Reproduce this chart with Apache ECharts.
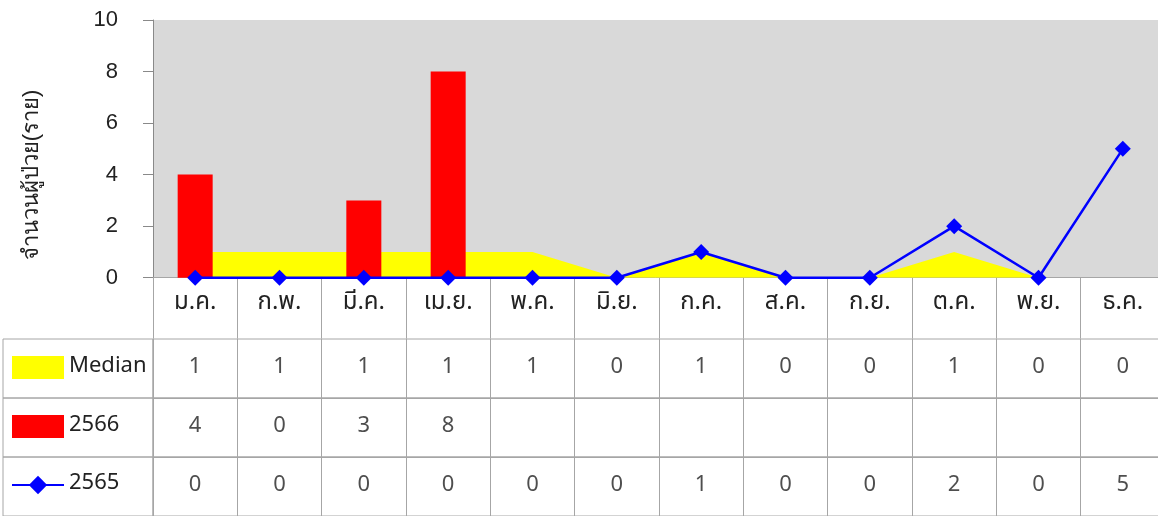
<!DOCTYPE html>
<html lang="th">
<head>
  <meta charset="UTF-8">
  <title>chart</title>
  <script src="https://cdn.jsdelivr.net/npm/echarts@6/dist/echarts.min.js"></script>
  <style>
    html, body { margin: 0; padding: 0; background: #fff; }
  </style>
</head>
<body>
  <div id="main" style="width:1158px;height:516px;"></div>
  <script>
    // ข้อมูล
    var months = ['ม.ค.', 'ก.พ.', 'มี.ค.', 'เม.ย.', 'พ.ค.', 'มิ.ย.', 'ก.ค.', 'ส.ค.', 'ก.ย.', 'ต.ค.', 'พ.ย.', 'ธ.ค.'];
    var median = [1, 1, 1, 1, 1, 0, 1, 0, 0, 1, 0, 0];
    var y2566 = [4, 0, 3, 8];
    var y2565 = [0, 0, 0, 0, 0, 0, 1, 0, 0, 2, 0, 5];
    var yTicks = [0, 2, 4, 6, 8, 10];
    var yTitle = 'จำนวนผู้ป่วย(ราย)';

    var rowNames = ['Median', '2566', '2565'];
    var rowData = [median, y2566, y2565];
    var rowTops = [339, 398, 457];
    var rowH = 59;
    var plotW = 1012;
    var thaiFont = '"Noto Sans Thai", "Noto Sans", sans-serif';
    var gridColor = '#a6a6a6';

    var chart = echarts.init(document.getElementById('main'));

    var grids = [{ left: 153, width: plotW, top: 20, height: 257.7, outerBoundsMode: 'none', show: true, backgroundColor: '#d9d9d9', borderWidth: 0 }];
    var xAxes = [{
      type: 'category', gridIndex: 0, data: months,
      axisLine: { lineStyle: { color: gridColor } },
      axisTick: { show: true, interval: 0, length: 61, lineStyle: { color: gridColor } },
      axisLabel: { fontSize: 24, color: '#222', margin: 14, fontFamily: thaiFont, interval: 0 }
    }];
    var yAxes = [{
      type: 'value', gridIndex: 0, min: yTicks[0], max: yTicks[yTicks.length - 1], interval: 2,
      axisLine: { show: true, lineStyle: { color: '#898989' } },
      axisTick: { show: true, length: 10, lineStyle: { color: '#898989' } },
      axisLabel: { fontSize: 22, color: '#222', margin: 35, fontFamily: 'Liberation Sans, Arial, sans-serif' },
      splitLine: { show: false }
    }];

    var series = [
      {
        name: 'Median', type: 'line', xAxisIndex: 0, yAxisIndex: 0, data: median,
        symbol: 'none', color: '#ffff00', lineStyle: { width: 0 },
        areaStyle: { color: '#ffff00', opacity: 1 }, z: 1
      },
      {
        name: '2566', type: 'bar', xAxisIndex: 0, yAxisIndex: 0, data: y2566,
        barWidth: 35, itemStyle: { color: '#ff0000' }, z: 2
      },
      {
        name: '2565', type: 'line', xAxisIndex: 0, yAxisIndex: 0, data: y2565,
        symbol: 'diamond', symbolSize: 16, color: '#0000ff',
        lineStyle: { width: 2.5, color: '#0000ff' }, z: 3
      }
    ];

    // ตารางข้อมูลใต้กราฟ
    rowTops.forEach(function (top, i) {
      var g = grids.length;
      grids.push({ left: 153, width: plotW, top: top, height: rowH, outerBoundsMode: 'none', show: true, borderColor: gridColor, borderWidth: 1, backgroundColor: 'transparent' });
      xAxes.push({
        type: 'category', gridIndex: g, data: months, position: 'top',
        axisLine: { show: true, lineStyle: { color: gridColor } },
        axisTick: { show: false }, axisLabel: { show: false },
        splitLine: { show: true, interval: 0, lineStyle: { color: gridColor } }
      });
      yAxes.push({ type: 'value', gridIndex: g, min: 0, max: 1, show: false });
      series.push({
        name: 'row' + i, type: 'scatter', xAxisIndex: g, yAxisIndex: g,
        data: rowData[i].map(function (v, k) { return [k, 0.5, v]; }),
        symbolSize: 1, itemStyle: { color: 'transparent' }, silent: true,
        label: {
          show: true, position: 'inside', fontSize: 22, color: '#222', fontFamily: thaiFont,
          formatter: function (p) { return p.value[2]; }
        }
      });
      // ช่องชื่อซีรีส์ด้านซ้าย
      var lg = grids.length;
      grids.push({ left: 3, width: 150, top: top, height: rowH, outerBoundsMode: 'none', show: true, borderColor: gridColor, borderWidth: 1, backgroundColor: 'transparent' });
      xAxes.push({ type: 'category', gridIndex: lg, data: [''], show: false });
      yAxes.push({ type: 'value', gridIndex: lg, show: false });
    });

    var option = {
      animation: false,
      textStyle: { fontFamily: thaiFont },
      grid: grids,
      xAxis: xAxes,
      yAxis: yAxes,
      legend: {
        orient: 'vertical', left: 6, top: 351,
        itemWidth: 52, itemHeight: 23, itemGap: 36,
        textStyle: { fontSize: 22, color: '#222', fontFamily: thaiFont },
        data: [{ name: 'Median', icon: 'rect' }, { name: '2566', icon: 'rect' }, { name: '2565' }]
      },
      graphic: [{
        type: 'text', x: 32, y: 175, rotation: Math.PI / 2,
        style: { text: yTitle, fontSize: 22, fill: '#222', font: '22px ' + thaiFont, textAlign: 'center', textVerticalAlign: 'middle' }
      }],
      series: series
    };

    chart.setOption(option);
  </script>
</body>
</html>
